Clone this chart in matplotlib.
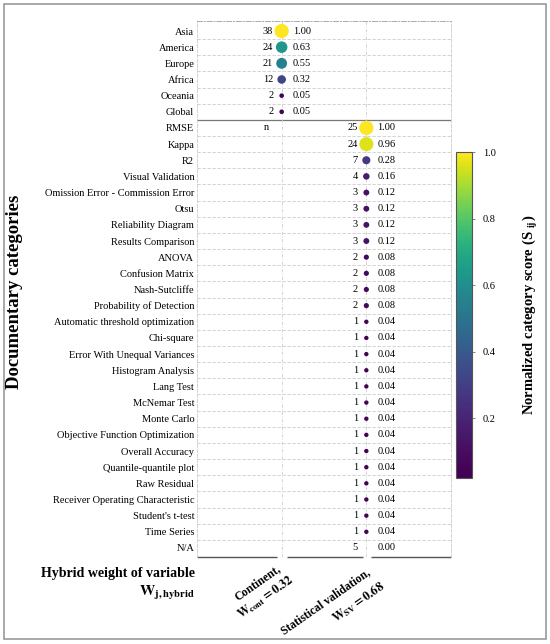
import matplotlib.pyplot as plt
from matplotlib.patches import Rectangle
from matplotlib.colors import ListedColormap
import numpy as np

plt.rcParams['font.family'] = ['Liberation Serif', 'DejaVu Serif']
plt.rcParams['mathtext.fontset'] = 'stix'

# continent block
cont_names = ["Asia", "America", "Europe", "Africa", "Oceania", "Global"]
cont_n = [38, 24, 21, 12, 2, 2]
cont_s = [1.00, 0.63, 0.55, 0.32, 0.05, 0.05]

# statistical validation block
sv_names = ["RMSE", "Kappa", "R2", "Visual Validation", "Omission Error - Commission Error",
            "Otsu", "Reliability Diagram", "Results Comparison", "ANOVA", "Confusion Matrix",
            "Nash-Sutcliffe", "Probability of Detection", "Automatic threshold optimization",
            "Chi-square", "Error With Unequal Variances", "Histogram Analysis", "Lang Test",
            "McNemar Test", "Monte Carlo", "Objective Function Optimization", "Overall Accuracy",
            "Quantile-quantile plot", "Raw Residual", "Receiver Operating Characteristic",
            "Student's t-test", "Time Series", "N/A"]
sv_n = [25, 24, 7, 4, 3, 3, 3, 3, 2, 2, 2, 2, 1, 1, 1, 1, 1, 1, 1, 1, 1, 1, 1, 1, 1, 1, 5]
sv_s = [1.00, 0.96, 0.28, 0.16, 0.12, 0.12, 0.12, 0.12, 0.08, 0.08, 0.08, 0.08, 0.04, 0.04,
        0.04, 0.04, 0.04, 0.04, 0.04, 0.04, 0.04, 0.04, 0.04, 0.04, 0.04, 0.04, 0.00]

labels = cont_names + sv_names
nrow = len(labels)
W, H = 550, 644

fig = plt.figure(figsize=(5.5, 6.44), dpi=100)
ax = fig.add_axes([197/W, 1-557/H, (451-197)/W, (557-21)/H])
# viridis, shifted a little toward the purple end like the original
cmap = ListedColormap(plt.get_cmap('viridis')(np.linspace(0, 1, 256)**1.35))
vmin, vmax = 0.02, 1.0

def px(x, y):
    return x/W, 1-y/H

yc = np.arange(len(cont_names))
ys = np.arange(len(cont_names), nrow)
sc = None
for col, yy, nn, ss in [(0, yc, cont_n, cont_s), (1, ys, sv_n, sv_s)]:
    ss = np.array(ss)
    m = ss > 0
    sc = ax.scatter(np.full(m.sum(), col), yy[m], s=100*ss[m]+6, c=ss[m], cmap=cmap,
                    vmin=vmin, vmax=vmax, zorder=3, linewidths=0)
    for y, n, s in zip(yy, nn, ss):
        ax.text(col-0.1, y, str(n), ha='right', va='center', fontsize=7.5)
        ax.text(col+0.13, y, f"{s:.2f}", ha='left', va='center', fontsize=7.5)

ax.text(-0.18, len(cont_names), "n", ha='center', va='center', fontsize=7.5)

# grid
for k in range(nrow-1):
    if k == len(cont_names)-1:
        ax.axhline(k+0.5, color='#777777', lw=0.9, zorder=1)
    else:
        ax.axhline(k+0.5, color='#cccccc', lw=0.6, ls=(0, (4, 2)), zorder=1)
for xv in [0, 1]:
    ax.axvline(xv, color='#cccccc', lw=0.6, ls=(0, (4, 2, 1, 2)), zorder=1)
for a, b in [(-1, -0.05), (0.06, 0.965), (1.06, 2)]:
    ax.hlines(nrow-1+0.56, a, b, color='#555555', lw=1.0, clip_on=False)

ax.set_xlim(-1, 2)
ax.set_ylim(nrow-1+0.56, -0.62)
ax.set_yticks(range(nrow))
ax.set_yticklabels(labels, fontsize=7.5)
ax.set_xticks([])
ax.tick_params(axis='y', length=0, pad=2)
ax.spines['bottom'].set_visible(False)
for sp in ['left', 'right']:
    ax.spines[sp].set_color('#cccccc')
    ax.spines[sp].set_linestyle((0, (4, 2)))
    ax.spines[sp].set_linewidth(0.6)
ax.spines['top'].set_color('#aaaaaa')
ax.spines['top'].set_linestyle((0, (5, 2, 1, 2)))
ax.spines['top'].set_linewidth(0.7)

fig.text(*px(15, 292), "Documentary categories", rotation=90, ha='center', va='center',
         fontsize=13.5, fontweight='bold')

# colorbar
cax = fig.add_axes([456/W, 1-478/H, 16/W, 326/H])
cb = fig.colorbar(sc, cax=cax, ticks=[0.2, 0.4, 0.6, 0.8, 1.0])
cb.ax.tick_params(labelsize=7.5, length=2, width=0.5, color='#555555', pad=6)
cb.outline.set_edgecolor('#555555')
cb.outline.set_linewidth(0.8)
cb.set_label(r"Normalized category score (S $_{\mathbf{ij}}$)", fontsize=10.5, fontweight='bold',
             labelpad=18)

# bottom labels
fig.text(*px(195, 573), "Hybrid weight of variable", ha='right', va='center',
         fontsize=10, fontweight='bold')
fig.text(*px(195, 593), r"$\mathbf{W_{j,hybrid}}$", ha='right', va='center', fontsize=11)
rot = 35
fig.text(*px(258, 583), "Continent,", rotation=rot, ha='center', va='center',
         fontsize=8.5, fontweight='bold')
fig.text(*px(266, 597), r"$\mathbf{W_{cont}=0.32}$", rotation=rot, ha='center', va='center',
         fontsize=9)
fig.text(*px(326, 602), "Statistical validation,", rotation=rot, ha='center', va='center',
         fontsize=8.5, fontweight='bold')
fig.text(*px(358, 602), r"$\mathbf{W_{SV}=0.68}$", rotation=rot, ha='center', va='center',
         fontsize=9)

fig.patches.append(Rectangle((4/W, 1-639/H), 542/W, 635/H, transform=fig.transFigure,
                             fill=False, edgecolor='#999999', lw=1.2))

fig.savefig("out.png", dpi=100)
